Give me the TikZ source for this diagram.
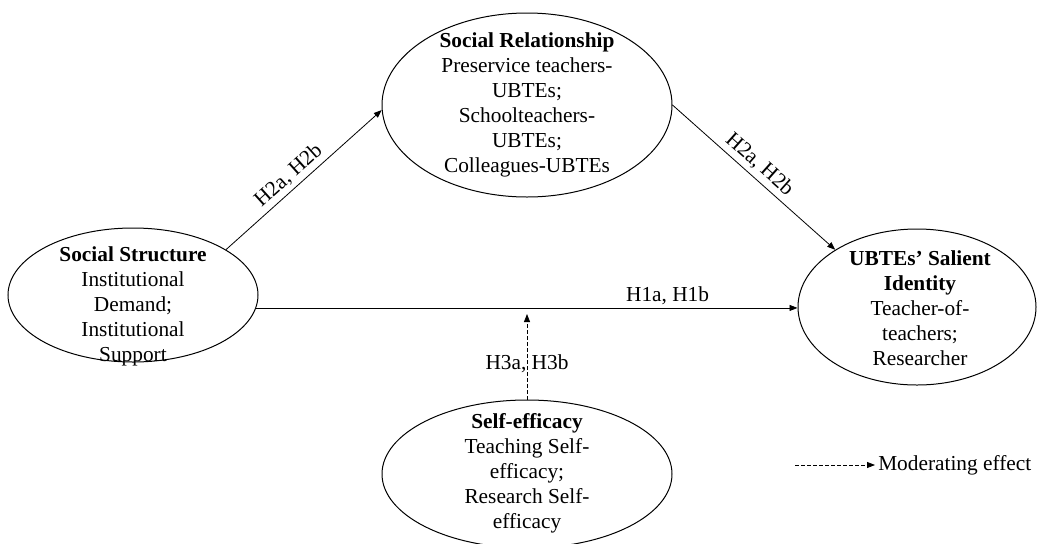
\documentclass[tikz,border=0pt]{standalone}
\usepackage{fontspec}
\setmainfont{Liberation Serif}
\usetikzlibrary{shapes.geometric,arrows.meta}
\begin{document}
\begin{tikzpicture}[x=0.75pt,y=-0.75pt,
  ell/.style={draw, ellipse, inner sep=0pt, line width=0.75pt},
  txt/.style={align=center, font=\fontsize{16}{18.75}\selectfont, inner sep=0pt},
  lbl/.style={font=\fontsize{16}{18.75}\selectfont, inner sep=2pt},
  arr/.style={-{Triangle[length=6pt,width=4.5pt]}, line width=0.6pt},
  modarr/.style={arr, dash pattern=on 3pt off 1.5pt}]
\useasboundingbox (0,0) rectangle (1038,543);
% ellipses
\node[ell, minimum width=187.5pt, minimum height=100.5pt] (ss) at (133,295) {};
\node[ell, minimum width=217.5pt, minimum height=138pt] (sr) at (527,105) {};
\node[ell, minimum width=178.5pt, minimum height=117pt] (ubte) at (917,307) {};
\node[ell, minimum width=217.5pt, minimum height=111pt] (se) at (527,474) {};
% texts
\node[txt] (sst) at (133,306) {\textbf{Social Structure}\\Institutional\\Demand;\\Institutional\\Support};
\node[txt] (srt) at (527,105) {\textbf{Social Relationship}\\Preservice teachers-\\UBTEs;\\Schoolteachers-\\UBTEs;\\Colleagues-UBTEs};
\node[txt] (ubtet) at (920,308) {\textbf{UBTEs’ Salient}\\\textbf{Identity}\\Teacher-of-\\teachers;\\Researcher};
\node[txt] (set) at (527,473) {\textbf{Self-efficacy}\\Teaching Self-\\efficacy;\\Research Self-\\efficacy};
% connectors
\draw[arr] (ss.26) -- node[lbl, sloped, above, pos=0.46, inner sep=3pt] (l1) {H2a, H2b} (sr.182);
\draw[arr] (sr.0) -- node[lbl, sloped, above, pos=0.48, inner sep=3pt] (l2) {H2a, H2b} (ubte.145);
\coordinate (hs) at (ss.-6);
\coordinate (he) at (hs -| ubte.west);
\draw[arr] (hs) -- node[lbl, above, pos=0.76] (l3) {H1a, H1b} (he);
\coordinate (mod) at (527,314);
\draw[modarr] (se.north) -- node[lbl, pos=0.42] (l4) {H3a, H3b} (mod);
% legend
\coordinate (lg1) at (795,465);
\coordinate (lg2) at (875,465);
\draw[modarr] (lg1) -- (lg2);
\node[lbl, anchor=west, inner sep=0pt] (lgt) at (878,465) {Moderating effect};
\end{tikzpicture}
\end{document}
